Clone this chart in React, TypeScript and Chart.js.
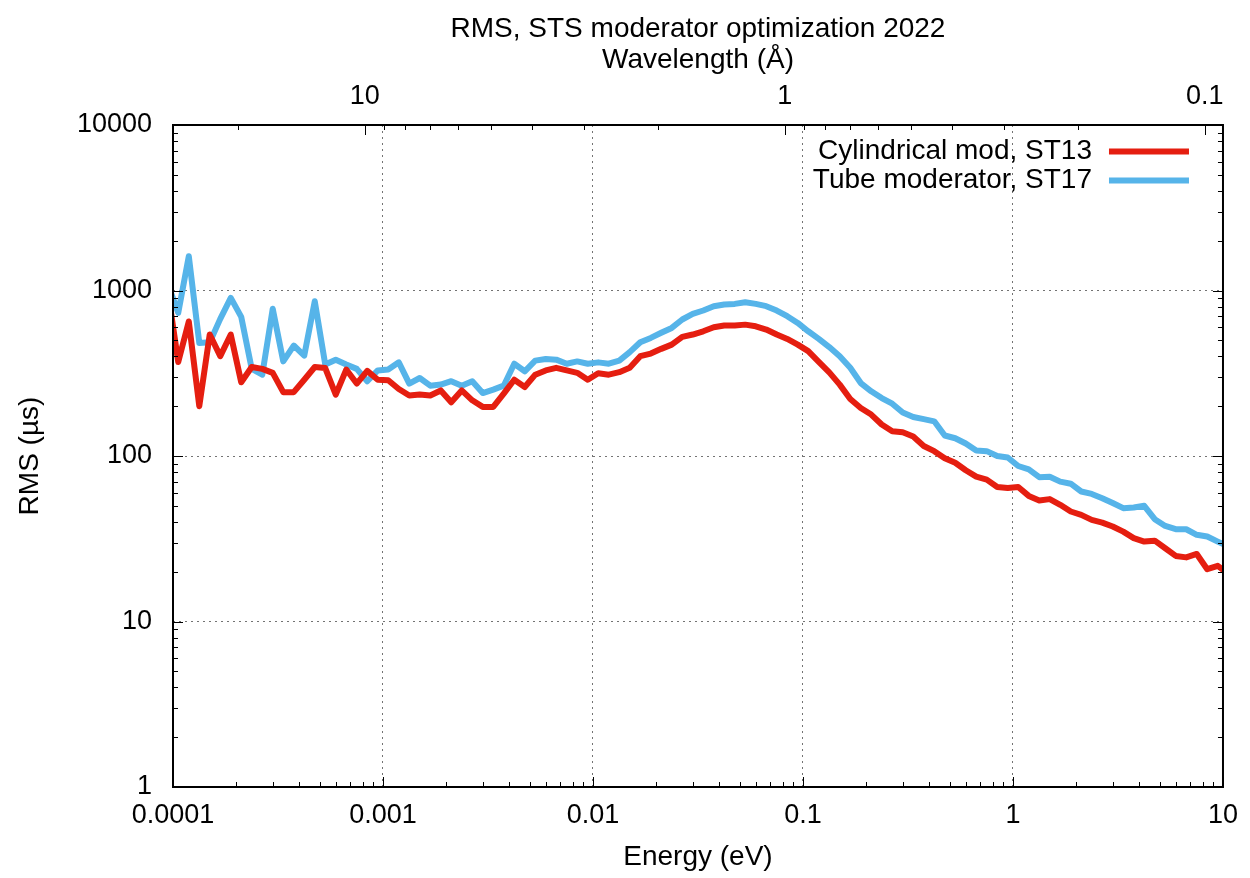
import { useEffect, useRef } from 'react';
import { Chart, registerables } from 'chart.js';

Chart.register(...registerables);

const TITLE = 'RMS, STS moderator optimization 2022';
const X_TITLE = 'Energy (eV)';
const X2_TITLE = 'Wavelength (Å)';
const Y_TITLE = 'RMS (µs)';

// Energy bin centres (eV)
const ENERGY_EV = [
  9.441e-5,
  1.059e-4, 1.189e-4, 1.334e-4, 1.496e-4, 1.679e-4, 1.884e-4, 2.113e-4, 2.371e-4, 2.661e-4, 2.985e-4,
  3.350e-4, 3.758e-4, 4.217e-4, 4.732e-4, 5.309e-4, 5.957e-4, 6.683e-4, 7.499e-4, 8.414e-4, 9.441e-4,
  1.059e-3, 1.189e-3, 1.334e-3, 1.496e-3, 1.679e-3, 1.884e-3, 2.113e-3, 2.371e-3, 2.661e-3, 2.985e-3,
  3.350e-3, 3.758e-3, 4.217e-3, 4.732e-3, 5.309e-3, 5.957e-3, 6.683e-3, 7.499e-3, 8.414e-3, 9.441e-3,
  1.059e-2, 1.189e-2, 1.334e-2, 1.496e-2, 1.679e-2, 1.884e-2, 2.113e-2, 2.371e-2, 2.661e-2, 2.985e-2,
  3.350e-2, 3.758e-2, 4.217e-2, 4.732e-2, 5.309e-2, 5.957e-2, 6.683e-2, 7.499e-2, 8.414e-2, 9.441e-2,
  1.059e-1, 1.189e-1, 1.334e-1, 1.496e-1, 1.679e-1, 1.884e-1, 2.113e-1, 2.371e-1, 2.661e-1, 2.985e-1,
  3.350e-1, 3.758e-1, 4.217e-1, 4.732e-1, 5.309e-1, 5.957e-1, 6.683e-1, 7.499e-1, 8.414e-1, 9.441e-1,
  1.059, 1.189, 1.334, 1.496, 1.679, 1.884, 2.113, 2.371, 2.661, 2.985,
  3.350, 3.758, 4.217, 4.732, 5.309, 5.957, 6.683, 7.499, 8.414, 9.441,
  10.59,
];

const CYLINDRICAL_ST13 = [
  1000,
  370, 650, 200, 542, 401, 542, 279, 345, 336, 318,
  243, 243, 289, 345, 340, 235, 333, 274, 327, 289,
  287, 254, 232, 235, 232, 249, 211, 249, 217, 198,
  198, 238, 289, 261, 310, 329, 341, 329, 318, 289,
  316, 310, 321, 341, 401, 416, 444, 471, 525, 542,
  567, 600, 614, 614, 622, 608, 581, 542, 510, 471,
  430, 370, 320, 270, 221, 195, 178, 155, 141, 139,
  131, 115, 107, 97, 91, 82, 75, 72, 65, 64,
  65, 57.4, 53.8, 54.9, 50.7, 46.2, 44.1, 41.1, 39.6, 37.5,
  34.9, 31.9, 30.4, 30.8, 27.7, 24.9, 24.4, 25.6, 20.7, 21.7,
  19.5,
];

const TUBE_ST17 = [
  1100,
  733, 1611, 482, 486, 674, 903, 693, 336, 310, 775,
  373, 465, 404, 861, 357, 382, 357, 336, 283, 329,
  333, 368, 274, 296, 266, 270, 283, 266, 283, 240,
  252, 266, 361, 325, 377, 386, 382, 361, 373, 361,
  368, 361, 377, 424, 487, 517, 555, 594, 668, 722,
  757, 804, 823, 830, 850, 830, 804, 757, 699, 637,
  567, 510, 455, 401, 341, 276, 246, 224, 207, 183,
  172, 167, 162, 133, 128, 119, 108, 107, 100, 98,
  87, 83, 74.5, 75, 70, 68, 61, 59, 55.6, 52,
  48.4, 48.9, 50, 41.5, 37.8, 36.1, 36.1, 33.4, 32.6, 30.4,
  28.4,
];

const SERIES_LABELS = ['Cylindrical mod, ST13', 'Tube moderator, ST17'];
const SERIES_COLORS = ['#e51e10', '#56b4e9'];

const X_TICKS = [1e-4, 1e-3, 1e-2, 1e-1, 1, 10];
const X_TICK_LABELS = ['0.0001', '0.001', '0.01', '0.1', '1', '10'];
const Y_TICKS = [1, 10, 100, 1000, 10000];
const Y_TICK_LABELS = ['1', '10', '100', '1000', '10000'];
const MINOR_MULTIPLIERS = [2, 3, 4, 5, 6, 7, 8, 9];

const WAVELENGTH_MAJOR = [10, 1, 0.1];
const WAVELENGTH_LABELS = ['10', '1', '0.1'];
const WAVELENGTH_MINOR = [20, 9, 8, 7, 6, 5, 4, 3, 2, 0.9, 0.8, 0.7, 0.6, 0.5, 0.4, 0.3, 0.2];
const EV_A2 = 0.08181; // E(eV) = 0.08181 / lambda(Å)^2

const X_MIN = 1e-4;
const X_MAX = 10;
const Y_MIN = 1;
const Y_MAX = 10000;

const FONT_FAMILY = "'Liberation Sans', Arial, Helvetica, sans-serif";
const TICK_FONT_SIZE = 27;
const TEXT_FONT_SIZE = 28;

const lambdaToE = (l: number) => EV_A2 / (l * l);

const framePlugin = {
  id: 'frame',
  afterDatasetsDraw(chart: any) {
    const { ctx, chartArea: a, scales } = chart;
    const xs = scales.x;
    const ys = scales.y;
    const x2 = scales.x2;
    ctx.save();
    ctx.strokeStyle = '#000';
    ctx.lineWidth = 1;
    const line = (x1: number, y1: number, x2_: number, y2: number) => {
      ctx.beginPath();
      ctx.moveTo(x1, y1);
      ctx.lineTo(x2_, y2);
      ctx.stroke();
    };
    const MAJ = 10;
    const MIN = 5;
    // bottom x ticks
    X_TICKS.forEach((d) => {
      const p = Math.round(xs.getPixelForValue(d)) + 0.5;
      line(p, a.bottom, p, a.bottom - MAJ);
      MINOR_MULTIPLIERS.forEach((m) => {
        const v = d * m;
        if (v > X_MIN && v < X_MAX) {
          const q = Math.round(xs.getPixelForValue(v)) + 0.5;
          line(q, a.bottom, q, a.bottom - MIN);
        }
      });
    });
    // left & right y ticks
    Y_TICKS.forEach((d) => {
      const p = Math.round(ys.getPixelForValue(d)) + 0.5;
      line(a.left, p, a.left + MAJ, p);
      line(a.right, p, a.right - MAJ, p);
      MINOR_MULTIPLIERS.forEach((m) => {
        const v = d * m;
        if (v > Y_MIN && v < Y_MAX) {
          const q = Math.round(ys.getPixelForValue(v)) + 0.5;
          line(a.left, q, a.left + MIN, q);
          line(a.right, q, a.right - MIN, q);
        }
      });
    });
    // top wavelength ticks
    WAVELENGTH_MAJOR.forEach((l) => {
      const p = Math.round(x2.getPixelForValue(lambdaToE(l))) + 0.5;
      line(p, a.top, p, a.top + MAJ);
    });
    WAVELENGTH_MINOR.forEach((l) => {
      const e = lambdaToE(l);
      if (e > X_MIN && e < X_MAX) {
        const p = Math.round(x2.getPixelForValue(e)) + 0.5;
        line(p, a.top, p, a.top + MIN);
      }
    });
    // border
    ctx.lineWidth = 2;
    ctx.strokeRect(a.left, a.top, a.right - a.left, a.bottom - a.top);

    // legend (gnuplot style: right-aligned text, sample line on the right)
    ctx.font = `${TEXT_FONT_SIZE}px ${FONT_FAMILY}`;
    ctx.fillStyle = '#000';
    ctx.textAlign = 'right';
    ctx.textBaseline = 'middle';
    chart.data.datasets.forEach((ds: any, i: number) => {
      const y = a.top + 26 + i * 29;
      ctx.fillText(ds.label, a.right - 131, y);
      ctx.strokeStyle = ds.borderColor;
      ctx.lineWidth = 6;
      line(a.right - 114, y + 0.5, a.right - 34, y + 0.5);
    });
    ctx.restore();
  },
};

export default function App() {
  const ref = useRef<HTMLCanvasElement>(null);

  useEffect(() => {
    if (!ref.current) return;
    Chart.defaults.font.family = FONT_FAMILY;
    Chart.defaults.font.size = TICK_FONT_SIZE;
    Chart.defaults.color = '#000';

    const seriesData = [CYLINDRICAL_ST13, TUBE_ST17];
    const datasets = seriesData.map((vals, i) => ({
      label: SERIES_LABELS[i],
      data: ENERGY_EV.map((e, k) => ({ x: e, y: vals[k] })),
      borderColor: SERIES_COLORS[i],
      backgroundColor: SERIES_COLORS[i],
      borderWidth: 6,
      pointRadius: 0,
      tension: 0,
      borderJoinStyle: 'round' as const,
      borderCapStyle: 'butt' as const,
    }));

    const gridStyle = {
      display: true,
      color: 'rgba(90,90,90,0.85)',
      lineWidth: 1,
      drawTicks: false,
    };

    const titleFont = { size: TEXT_FONT_SIZE, weight: 'normal' as const };

    const chart = new Chart(ref.current, {
      type: 'line',
      data: { datasets },
      plugins: [framePlugin],
      options: {
        animation: false,
        responsive: true,
        maintainAspectRatio: false,
        devicePixelRatio: 1,
        events: [],
        layout: { padding: { left: 0, right: 23, top: 0, bottom: 0 } },
        plugins: {
          legend: { display: false },
          tooltip: { enabled: false },
          title: {
            display: true,
            text: TITLE,
            fullSize: false,
            color: '#000',
            font: { size: TEXT_FONT_SIZE, weight: 'normal', lineHeight: 1.0 },
            padding: { top: 15, bottom: 0 },
          },
        },
        scales: {
          x: {
            type: 'logarithmic',
            position: 'bottom',
            min: X_MIN,
            max: X_MAX,
            grid: gridStyle,
            border: { display: false, dash: [2, 4] },
            afterBuildTicks: (scale: any) => {
              scale.ticks = X_TICKS.map((v) => ({ value: v }));
            },
            afterFit: (scale: any) => {
              scale.height = 91;
            },
            ticks: {
              autoSkip: false,
              maxRotation: 0,
              minRotation: 0,
              padding: 12,
              callback: (_v: any, i: number) => X_TICK_LABELS[i],
            },
            title: {
              display: true,
              text: X_TITLE,
              font: titleFont,
              padding: { top: 0, bottom: 4 },
            },
          },
          x2: {
            type: 'logarithmic',
            position: 'top',
            min: X_MIN,
            max: X_MAX,
            grid: { display: false, drawTicks: false },
            border: { display: false },
            afterBuildTicks: (scale: any) => {
              scale.ticks = WAVELENGTH_MAJOR.map((l) => ({ value: lambdaToE(l) }));
            },
            afterFit: (scale: any) => {
              scale.height = 82;
            },
            ticks: {
              autoSkip: false,
              maxRotation: 0,
              minRotation: 0,
              padding: 12,
              callback: (_v: any, i: number) => WAVELENGTH_LABELS[i],
            },
            title: {
              display: true,
              text: X2_TITLE,
              font: titleFont,
              padding: { top: 0, bottom: 0 },
            },
          },
          y: {
            type: 'logarithmic',
            position: 'left',
            min: Y_MIN,
            max: Y_MAX,
            grid: gridStyle,
            border: { display: false, dash: [2, 4] },
            afterBuildTicks: (scale: any) => {
              scale.ticks = Y_TICKS.map((v) => ({ value: v }));
            },
            afterFit: (scale: any) => {
              scale.width = 173;
            },
            ticks: {
              autoSkip: false,
              padding: 21,
              callback: (_v: any, i: number) => Y_TICK_LABELS[i],
            },
            title: {
              display: true,
              text: Y_TITLE,
              font: titleFont,
              padding: { top: 13, bottom: 0 },
            },
          },
        },
      } as any,
    });
    return () => chart.destroy();
  }, []);

  return (
    <div style={{ position: 'fixed', left: 0, top: 0, width: 1250, height: 878, background: '#fff' }}>
      <canvas ref={ref} />
    </div>
  );
}
